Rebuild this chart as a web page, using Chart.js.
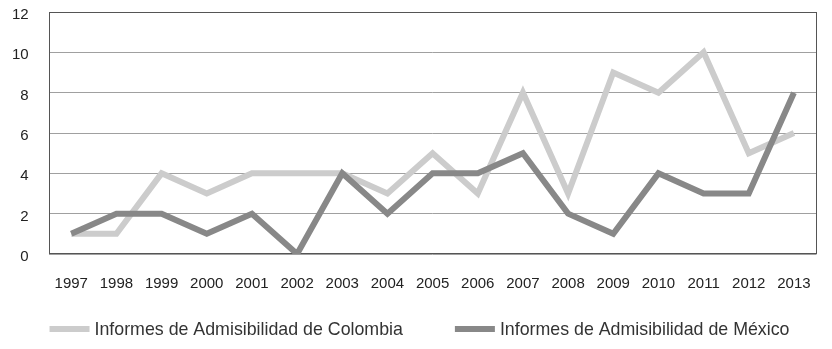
<!DOCTYPE html>
<html><head><meta charset="utf-8">
<script src="https://cdn.jsdelivr.net/npm/chart.js@4"></script>
<style>html,body{margin:0;padding:0;background:#fff}#wrap{width:832px;height:349px;position:relative}</style>
</head><body><div id="wrap"><canvas id="c"></canvas></div>
<script>
const years = ['1997','1998','1999','2000','2001','2002','2003','2004','2005','2006','2007','2008','2009','2010','2011','2012','2013'];
const colombia = [1,1,4,3,4,4,4,3,5,3,8,3,9,8,10,5,6];
const mexico = [1,2,2,1,2,0,4,2,4,4,5,2,1,4,3,3,8];
const yTicks = [0,2,4,6,8,10,12];
const seriesNames = ['Informes de Admisibilidad de Colombia','Informes de Admisibilidad de México'];

const FONT = "'Liberation Sans', Arial, sans-serif";

const framePlugin = {
  id: 'frame',
  beforeDatasetsDraw(chart) {
    const a = chart.chartArea, ctx = chart.ctx;
    ctx.save();
    ctx.strokeStyle = '#555555';
    ctx.lineWidth = 1;
    ctx.strokeRect(Math.round(a.left) + 0.5, Math.round(a.top) + 0.5, Math.round(a.right - a.left) - 1, Math.round(a.bottom - a.top) - 1);
    ctx.restore();
  }
};

// Legend drawn from the chart's datasets (labels and colours), laid out like the reference
const legendPlugin = {
  id: 'bottomLegend',
  afterDraw(chart) {
    const ctx = chart.ctx;
    const sets = chart.data.datasets;
    const lineW = 40, gapText = 5, itemGap = 52, y = 329;
    ctx.save();
    ctx.font = '17.8px ' + FONT;
    const widths = sets.map(d => lineW + gapText + ctx.measureText(d.label).width);
    const total = widths.reduce((s, w) => s + w, 0) + itemGap * (sets.length - 1);
    let x = 419.5 - total / 2;
    sets.forEach((d, i) => {
      ctx.strokeStyle = d.borderColor;
      ctx.lineWidth = d.borderWidth;
      ctx.lineCap = 'butt';
      ctx.beginPath();
      ctx.moveTo(x, y);
      ctx.lineTo(x + lineW, y);
      ctx.stroke();
      ctx.fillStyle = '#333333';
      ctx.textBaseline = 'middle';
      ctx.textAlign = 'left';
      ctx.fillText(d.label, x + lineW + gapText, y + 1);
      x += widths[i] + itemGap;
    });
    ctx.restore();
  }
};

new Chart(document.getElementById('c'), {
  type: 'line',
  data: {
    labels: years,
    datasets: [
      { label: seriesNames[0], data: colombia, borderColor: '#cccccc', backgroundColor: '#cccccc', borderWidth: 6, pointRadius: 0, tension: 0, order: 2, fill: false },
      { label: seriesNames[1], data: mexico, borderColor: '#888888', backgroundColor: '#888888', borderWidth: 6, pointRadius: 0, tension: 0, order: 1, fill: false }
    ]
  },
  options: {
    responsive: true,
    maintainAspectRatio: false,
    animation: false,
    devicePixelRatio: 1,
    layout: { padding: { left: -8, right: 13, top: 0, bottom: 35 } },
    plugins: {
      tooltip: { enabled: false },
      legend: { display: false }
    },
    scales: {
      x: {
        offset: true,
        grid: { display: false, drawTicks: false },
        border: { display: false },
        ticks: { color: '#222222', padding: 21, maxRotation: 0, autoSkip: false, font: { family: FONT, size: 15 } }
      },
      y: {
        min: 0, max: 12,
        afterBuildTicks(scale) { scale.ticks = yTicks.map(v => ({ value: v })); },
        afterFit(scale) { scale.paddingTop = 12; scale.paddingBottom = 0; },
        grid: { color: '#a0a0a0', drawTicks: false, lineWidth: 1 },
        border: { display: false },
        ticks: { color: '#222222', padding: 20, labelOffset: 3, font: { family: FONT, size: 15 } }
      }
    }
  },
  plugins: [framePlugin, legendPlugin]
});
</script>
</body></html>
